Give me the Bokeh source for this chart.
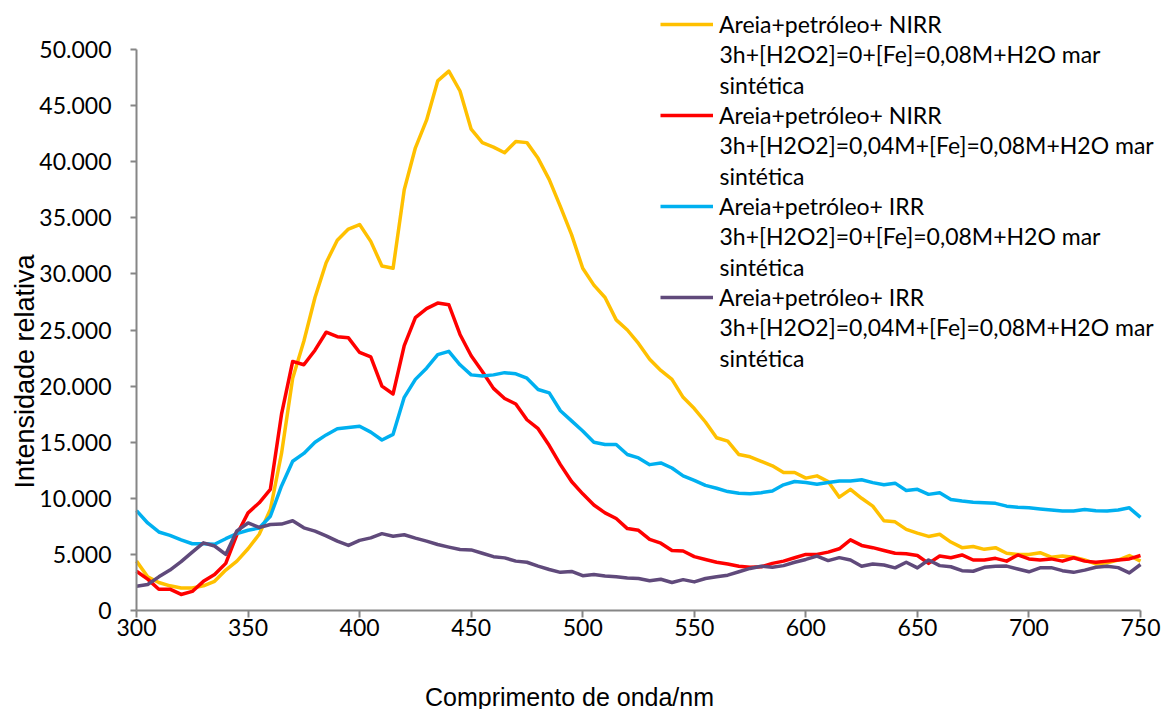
import math
from bokeh.plotting import figure
from bokeh.models import (Range1d, FixedTicker, CustomJSTickFormatter, Label,
                          Legend, LegendItem)
from bokeh.embed import file_html
from bokeh.resources import INLINE

# ---------------- data ----------------
wavelength = list(range(300, 755, 5))

nirr_h2o2_0 = [
    4400, 3000, 2500, 2200, 2000, 2000, 2200, 2600, 3600, 4400,
    5500, 6800, 9000, 14000, 20700, 24000, 27900, 31000, 33000, 34000,
    34400, 32900, 30700, 30500, 37500, 41240, 43700, 47200, 48070, 46300,
    42900, 41700, 41300, 40800, 41800, 41700, 40300, 38400, 36000, 33500,
    30500, 29000, 27900, 25900, 25000, 23800, 22400, 21400, 20600, 19000,
    18000, 16800, 15400, 15100, 13900, 13700, 13300, 12900, 12300, 12300,
    11800, 12000, 11500, 10100, 10800, 10000, 9300, 8000, 7900, 7230,
    6900, 6600, 6800, 6100, 5600, 5700, 5450, 5600, 5100, 5000,
    5000, 5150, 4750, 4850, 4750, 4500, 4150, 4250, 4500, 4900,
    4400,
]
nirr_h2o2_004 = [
    3500, 2800, 1900, 1900, 1430, 1700, 2600, 3200, 4200, 6770,
    8700, 9600, 10800, 17500, 22200, 21900, 23200, 24800, 24400, 24300,
    23000, 22600, 20000, 19300, 23600, 26100, 26900, 27400, 27250, 24600,
    22700, 21300, 19800, 18900, 18400, 17000, 16200, 14700, 13000, 11500,
    10400, 9400, 8700, 8200, 7300, 7150, 6340, 6000, 5350, 5300,
    4800, 4550, 4300, 4150, 3950, 3850, 3900, 4200, 4400, 4700,
    5000, 5000, 5200, 5500, 6300, 5800, 5600, 5350, 5100, 5050,
    4900, 4200, 4850, 4700, 4950, 4500, 4500, 4650, 4400, 4950,
    4600, 4500, 4600, 4400, 4700, 4400, 4300, 4400, 4500, 4600,
    4900,
]
irr_h2o2_0 = [
    8900, 7800, 7000, 6700, 6300, 5950, 5950, 5900, 6400, 6850,
    7150, 7350, 8400, 11100, 13300, 14000, 15000, 15650, 16200, 16300,
    16420, 15900, 15200, 15700, 19000, 20600, 21600, 22800, 23100, 21900,
    21000, 20900, 21000, 21200, 21100, 20700, 19700, 19400, 17800, 16900,
    16000, 15000, 14800, 14800, 13900, 13600, 13000, 13150, 12700, 12000,
    11600, 11150, 10900, 10600, 10450, 10400, 10500, 10650, 11200, 11500,
    11400, 11250, 11400, 11550, 11550, 11650, 11400, 11200, 11350, 10700,
    10800, 10350, 10500, 9900, 9760, 9650, 9610, 9550, 9300, 9200,
    9160, 9050, 8950, 8870, 8870, 9000, 8900, 8870, 8950, 9150,
    8300,
]
irr_h2o2_004 = [
    2170, 2320, 3000, 3600, 4350, 5200, 6030, 5750, 5000, 7100,
    7800, 7400, 7660, 7700, 8000, 7370, 7070, 6650, 6180, 5800,
    6250, 6470, 6850, 6620, 6750, 6450, 6180, 5880, 5650, 5430,
    5400, 5100, 4800, 4690, 4400, 4300, 3950, 3650, 3400, 3480,
    3100, 3200, 3070, 3000, 2900, 2850, 2650, 2780, 2500, 2750,
    2550, 2850, 3000, 3150, 3450, 3750, 3950, 3850, 4000, 4300,
    4550, 4850, 4450, 4710, 4500, 3950, 4150, 4050, 3800, 4300,
    3800, 4500, 4000, 3900, 3550, 3500, 3850, 3950, 3960, 3700,
    3450, 3800, 3820, 3550, 3400, 3600, 3850, 3950, 3820, 3350,
    4100,
]

series_heads = ["Areia+petróleo+ NIRR", "Areia+petróleo+ NIRR",
                "Areia+petróleo+ IRR", "Areia+petróleo+ IRR"]
series_conds = ["3h+[H2O2]=0+[Fe]=0,08M+H2O mar",
                "3h+[H2O2]=0,04M+[Fe]=0,08M+H2O mar",
                "3h+[H2O2]=0+[Fe]=0,08M+H2O mar",
                "3h+[H2O2]=0,04M+[Fe]=0,08M+H2O mar"]
series_tail = "sintética"
series_values = [nirr_h2o2_0, nirr_h2o2_004, irr_h2o2_0, irr_h2o2_004]
series_colors = ["#FFC000", "#FF0000", "#00B0F0", "#604A7B"]

x_ticks = list(range(300, 751, 50))
y_ticks = list(range(0, 50001, 5000))
X_MIN, X_MAX = 300, 750
Y_MIN, Y_MAX = 0, 50000
x_title = "Comprimento de onda/nm"
y_title = "Intensidade relativa"

# ---------------- layout (frame = whole canvas, axes at fixed spots) ----------------
W, H = 1163, 709
AX_LEFT_PX, AX_RIGHT_PX = 136, 1140     # canvas x of 300 nm and 750 nm
AX_TOP_PX, AX_BOTTOM_PX = 49, 610       # canvas y of 50.000 and 0
px_per_x = (AX_RIGHT_PX - AX_LEFT_PX) / (X_MAX - X_MIN)
px_per_y = (AX_BOTTOM_PX - AX_TOP_PX) / (Y_MAX - Y_MIN)
x_start = X_MIN - AX_LEFT_PX / px_per_x
x_end = X_MAX + (W - AX_RIGHT_PX) / px_per_x
y_start = Y_MIN - (H - AX_BOTTOM_PX) / px_per_y
y_end = Y_MAX + AX_TOP_PX / px_per_y

p = figure(width=W, height=H, output_backend="svg", toolbar_location=None,
           x_range=Range1d(x_start, x_end), y_range=Range1d(y_start, y_end),
           min_border_left=0, min_border_right=0,
           min_border_top=0, min_border_bottom=0)
p.xgrid.visible = False
p.ygrid.visible = False
p.outline_line_color = None
p.background_fill_color = "white"
p.border_fill_color = "white"

axis_color = "#868686"
for ax in (p.xaxis[0], p.yaxis[0]):
    ax.axis_line_color = axis_color
    ax.axis_line_width = 2
    ax.major_tick_line_color = axis_color
    ax.major_tick_line_width = 2
    ax.major_tick_in = 0
    ax.minor_tick_out = 0
    ax.minor_tick_in = 0
    ax.major_label_text_font = "Lato"
    ax.major_label_text_font_size = "23px"
    ax.major_label_text_color = "#000000"

xa, ya = p.xaxis[0], p.yaxis[0]
xa.fixed_location = Y_MIN
xa.bounds = (X_MIN, X_MAX)
xa.ticker = FixedTicker(ticks=x_ticks, minor_ticks=[])
xa.major_tick_out = 7
xa.major_label_standoff = 1
ya.fixed_location = X_MIN
ya.bounds = (Y_MIN, Y_MAX)
ya.ticker = FixedTicker(ticks=y_ticks, minor_ticks=[])
ya.major_tick_out = 6
ya.major_label_standoff = 19
ya.formatter = CustomJSTickFormatter(code=r"""
    return Math.round(tick).toString().replace(/\B(?=(\d{3})+(?!\d))/g, '.');
""")

renderers = []
for vals, col in zip(series_values, series_colors):
    r = p.line(wavelength, vals, line_color=col, line_width=3.5,
               line_join="round")
    renderers.append(r)

# ---------------- legend ----------------
LEG_LEFT = 660
LEG_FIRST_CENTER = 23.5
ITEM_H = 30
SPACING = 61
STEP = ITEM_H + SPACING
LINE_STEP = STEP / 3.0
n = len(renderers)
leg_height = n * ITEM_H + (n - 1) * SPACING
leg_top = LEG_FIRST_CENTER - ITEM_H / 2
legend = Legend(
    items=[LegendItem(label=h, renderers=[r]) for h, r in zip(series_heads, renderers)],
    location=(LEG_LEFT, H - (leg_top + leg_height)),
    orientation="vertical",
    glyph_width=53, glyph_height=ITEM_H, label_height=ITEM_H,
    label_standoff=6, spacing=SPACING, padding=0, margin=0,
    border_line_color=None, background_fill_alpha=0,
    label_text_font="Lato", label_text_font_size="23px",
    label_text_color="#000000",
)
p.add_layout(legend)

TEXT_LEFT = LEG_LEFT + 53 + 6
for k in range(n):
    for j, txt in enumerate([series_conds[k], series_tail], start=1):
        cy = LEG_FIRST_CENTER + k * STEP + j * LINE_STEP
        p.add_layout(Label(x=TEXT_LEFT, y=H - cy,
                           x_units="screen", y_units="screen", text=txt,
                           text_font="Lato", text_font_size="23px",
                           text_color="#000000", text_align="left",
                           text_baseline="middle"))

# ---------------- axis titles ----------------
p.add_layout(Label(x=569, y=H - 696, x_units="screen", y_units="screen",
                   text=x_title, text_font="Liberation Sans",
                   text_font_size="25px", text_color="#000000",
                   text_align="center", text_baseline="middle"))
p.add_layout(Label(x=24, y=H - 371, x_units="screen", y_units="screen",
                   angle=math.pi / 2, text=y_title,
                   text_font="Liberation Sans", text_font_size="27px",
                   text_color="#000000", text_align="center",
                   text_baseline="middle"))

open("out.html", "w").write(file_html(p, INLINE))
